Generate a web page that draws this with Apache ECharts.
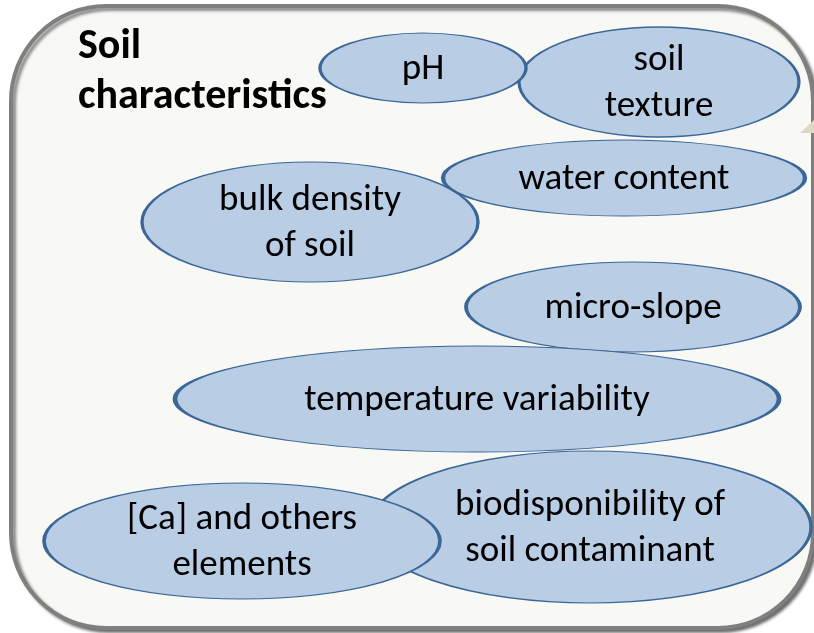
<!DOCTYPE html>
<html>
<head>
<meta charset="utf-8">
<script src="https://cdn.jsdelivr.net/npm/echarts@6/dist/echarts.min.js"></script>
<style>
  html, body { margin: 0; padding: 0; background: #ffffff; }
  #chart { width: 814px; height: 633px; }
</style>
</head>
<body>
<div id="chart"></div>
<script>
// soil characteristics, one ellipse each (centre x, centre y, width, height in px)
var labels = ["soil\ntexture", "pH", "water content", "bulk density\nof soil", "micro-slope",
  "temperature variability", "biodisponibility of\nsoil contaminant", "[Ca] and others\nelements"];
var centerX = [659, 423, 624, 310, 633, 477, 590, 242];
var centerY = [82, 68, 178, 222, 307, 399, 527, 541];
var widths = [280, 206, 362, 336, 334, 604, 442, 396];
var heights = [110, 70, 76, 120, 90, 106, 152, 116];

var chart = echarts.init(document.getElementById("chart"));

var points = labels.map(function (name, i) {
  return { name: name, value: [centerX[i], centerY[i]] };
});

var option = {
  animation: false,
  backgroundColor: "#ffffff",
  grid: { left: 0, right: 0, top: 0, bottom: 0 },
  xAxis: { type: "value", min: 0, max: 814, show: false },
  yAxis: { type: "value", min: 0, max: 633, inverse: true, show: false },
  graphic: [
    {
      type: "rect",
      z: -10,
      shape: { x: 11, y: 6, width: 802, height: 622, r: 95 },
      style: {
        fill: "#f8f8f4",
        stroke: "#7f7f7f",
        lineWidth: 4,
        shadowColor: "rgba(0,0,0,0.45)",
        shadowOffsetX: 3,
        shadowOffsetY: 3,
        shadowBlur: 3
      }
    },
    {
      // bit of a shape peeking in behind the box on the right
      type: "polygon",
      z: -5,
      shape: { points: [[800, 133], [814, 120], [814, 133]] },
      style: { fill: "#dcd8c6" }
    },
    {
      type: "text",
      z: 10,
      left: 78,
      top: 22,
      style: {
        text: "Soil\ncharacteristics",
        font: "bold 42px Carlito, Lato, sans-serif",
        lineHeight: 50,
        fill: "#000000"
      }
    }
  ],
  series: [{
    type: "scatter",
    data: points,
    symbol: "circle",
    symbolSize: function (val, params) {
      return [widths[params.dataIndex], heights[params.dataIndex]];
    },
    itemStyle: {
      color: "#b9cde5",
      borderColor: "#3b6796",
      borderWidth: 2,
      opacity: 1
    },
    label: {
      show: true,
      position: "inside",
      offset: [0, 2],
      formatter: "{b}",
      color: "#000000",
      fontFamily: "Carlito, Lato, sans-serif",
      fontSize: 37,
      lineHeight: 46
    },
    emphasis: { disabled: true }
  }]
};

chart.setOption(option);
</script>
</body>
</html>
